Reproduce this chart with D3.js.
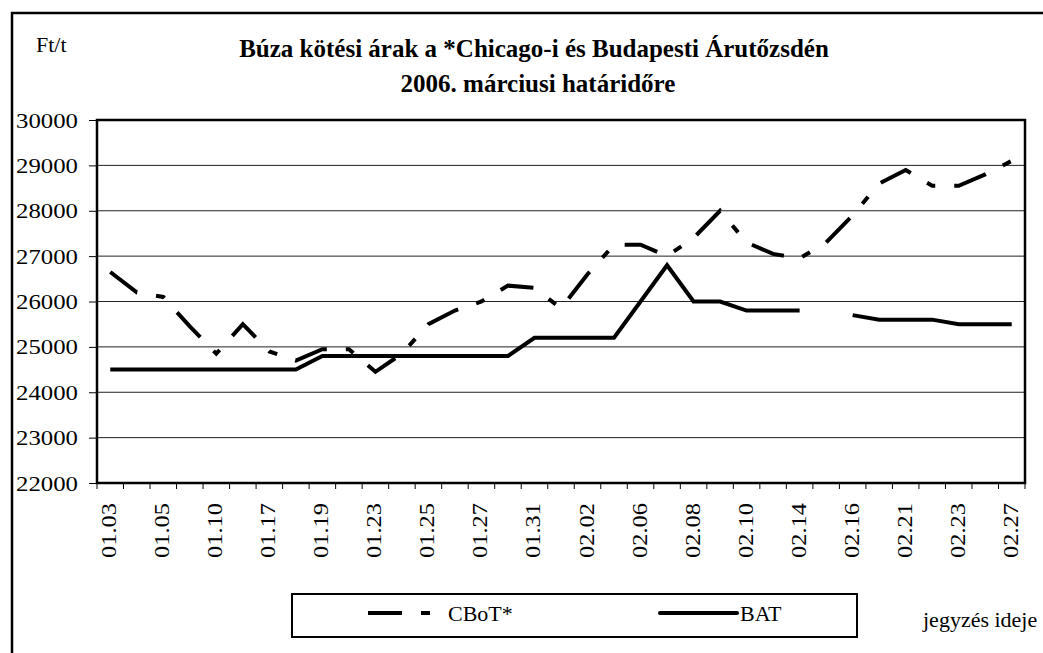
<!DOCTYPE html>
<html>
<head>
<meta charset="utf-8">
<script src="https://cdn.jsdelivr.net/npm/d3@7"></script>
<style>
  body { margin: 0; background: #fff; }
  svg { display: block; }
</style>
</head>
<body>
<script>
// jegyzési napok (csak minden második felirat látszik)
const dates = ["01.03","01.04","01.05","01.06","01.10","01.13","01.17","01.18","01.19","01.20",
  "01.23","01.24","01.25","01.26","01.27","01.30","01.31","02.01","02.02","02.03",
  "02.06","02.07","02.08","02.09","02.10","02.13","02.14","02.15","02.16","02.17",
  "02.21","02.22","02.23","02.24","02.27"];

// CBoT* árak Ft/t
const cbot = [26650,26200,26100,25450,24850,25500,24900,24700,24950,24950,
  24450,24850,25500,25800,26000,26350,26300,25850,26600,27250,
  27250,27000,27400,28000,27300,27050,26950,27300,27900,28600,
  28900,28550,28550,28800,29100];

// BAT árak Ft/t (02.15-én nincs jegyzés)
const bat = [24500,24500,24500,24500,24500,24500,24500,24500,24800,24800,
  24800,24800,24800,24800,24800,24800,25200,25200,25200,25200,
  26000,26800,26000,26000,25800,25800,25800,null,25700,25600,
  25600,25600,25500,25500,25500];

const yTicks = [22000,23000,24000,25000,26000,27000,28000,29000,30000];

const width = 1043, height = 653;
const plot = {left: 97, right: 1025, top: 120, bottom: 483};
const serif = "'Liberation Serif', 'Times New Roman', serif";

const svg = d3.select("body").append("svg")
    .attr("width", width)
    .attr("height", height)
    .attr("font-family", serif);

// külső keret
svg.append("path")
    .attr("d", `M12,${height + 5} L12,13 L${width + 5},13`)
    .attr("fill", "none")
    .attr("stroke", "#000")
    .attr("stroke-width", 2.5);

const x = d3.scaleBand().domain(dates).range([plot.left, plot.right]);
const cx = d => x(d) + x.bandwidth() / 2;
const y = d3.scaleLinear().domain([22000, 30000]).range([plot.bottom, plot.top]);

// rácsvonalak
svg.append("g")
    .selectAll("line")
    .data(yTicks)
    .enter().append("line")
    .attr("x1", plot.left)
    .attr("x2", plot.right)
    .attr("y1", d => y(d))
    .attr("y2", d => y(d))
    .attr("stroke", "#222")
    .attr("stroke-width", 1);

// y tengely
const yAxis = svg.append("g")
    .attr("transform", `translate(${plot.left},0)`)
    .call(d3.axisLeft(y).tickValues(yTicks).tickSize(8).tickPadding(11).tickFormat(d3.format("d")));
yAxis.attr("font-family", serif);
yAxis.select(".domain").remove();
yAxis.selectAll(".tick line").attr("stroke", "#000");
yAxis.selectAll(".tick text")
    .style("font-family", serif)
    .style("font-size", "22px")
    .attr("fill", "#000")
    .attr("textLength", 62)
    .attr("lengthAdjust", "spacingAndGlyphs");

// x tengely osztásai a kategóriák határán
const bounds = dates.map(d => x(d)).concat([plot.right]);
svg.append("g")
    .selectAll("line")
    .data(bounds)
    .enter().append("line")
    .attr("x1", d => d)
    .attr("x2", d => d)
    .attr("y1", plot.bottom)
    .attr("y2", plot.bottom + 6)
    .attr("stroke", "#000");

// x feliratok, minden második
svg.append("g")
    .selectAll("text")
    .data(dates.filter((d, i) => i % 2 === 0))
    .enter().append("text")
    .attr("transform", d => `translate(${cx(d) + 6},503) rotate(-90)`)
    .attr("text-anchor", "end")
    .attr("textLength", 55)
    .attr("lengthAdjust", "spacingAndGlyphs")
    .style("font-family", serif)
    .style("font-size", "22px")
    .text(d => d);

// rajzterület kerete
svg.append("rect")
    .attr("x", plot.left)
    .attr("y", plot.top)
    .attr("width", plot.right - plot.left)
    .attr("height", plot.bottom - plot.top)
    .attr("fill", "none")
    .attr("stroke", "#000")
    .attr("stroke-width", 2.5);

const line = d3.line()
    .defined(d => d != null)
    .x((d, i) => cx(dates[i]))
    .y(d => y(d));

svg.append("path")
    .datum(cbot)
    .attr("d", line)
    .attr("fill", "none")
    .attr("stroke", "#000")
    .attr("stroke-width", 4)
    .attr("stroke-dasharray", "34,19,9,19");

svg.append("path")
    .datum(bat)
    .attr("d", line)
    .attr("fill", "none")
    .attr("stroke", "#000")
    .attr("stroke-width", 4);

// cím
svg.append("text")
    .attr("x", 534).attr("y", 57)
    .attr("text-anchor", "middle")
    .style("font-family", serif)
    .style("font-size", "25px")
    .style("font-weight", "bold")
    .text("Búza kötési árak a *Chicago-i és Budapesti Árutőzsdén");
svg.append("text")
    .attr("x", 538).attr("y", 92)
    .attr("text-anchor", "middle")
    .style("font-family", serif)
    .style("font-size", "25px")
    .style("font-weight", "bold")
    .text("2006. márciusi határidőre");

svg.append("text")
    .attr("x", 36).attr("y", 52)
    .style("font-family", serif)
    .style("font-size", "22px")
    .text("Ft/t");

// jelmagyarázat
const legend = svg.append("g");
legend.append("rect")
    .attr("x", 292).attr("y", 594)
    .attr("width", 565).attr("height", 43)
    .attr("fill", "#fff")
    .attr("stroke", "#000")
    .attr("stroke-width", 2);
legend.append("line")
    .attr("x1", 368).attr("x2", 431)
    .attr("y1", 613).attr("y2", 613)
    .attr("stroke", "#000")
    .attr("stroke-width", 4)
    .attr("stroke-dasharray", "34,19,9,19");
legend.append("text")
    .attr("x", 448).attr("y", 621)
    .style("font-family", serif)
    .style("font-size", "22px")
    .text("CBoT*");
legend.append("line")
    .attr("x1", 660).attr("x2", 737)
    .attr("y1", 613).attr("y2", 613)
    .attr("stroke", "#000")
    .attr("stroke-width", 4)
    .attr("stroke-linecap", "round");
legend.append("text")
    .attr("x", 740).attr("y", 621)
    .style("font-family", serif)
    .style("font-size", "22px")
    .text("BAT");

svg.append("text")
    .attr("x", 923).attr("y", 627)
    .style("font-family", serif)
    .style("font-size", "22px")
    .text("jegyzés ideje");
</script>
</body>
</html>
